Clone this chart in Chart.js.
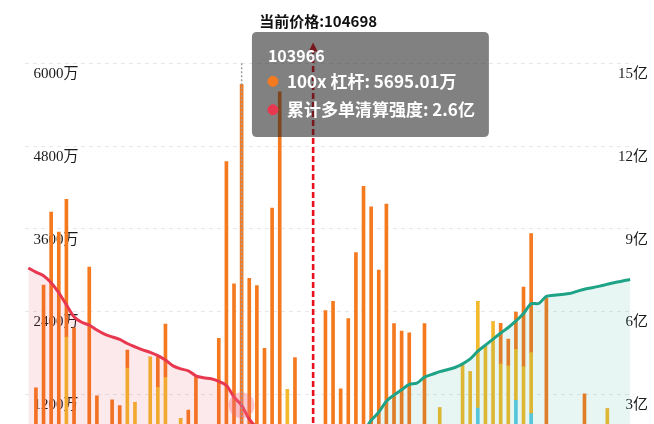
<!DOCTYPE html>
<html><head><meta charset="utf-8">
<script src="https://cdn.jsdelivr.net/npm/chart.js@4.4.1/dist/chart.umd.min.js"></script>
<style>
html,body{margin:0;padding:0;background:#fff;overflow:hidden;width:654px;height:424px;}
#wrap{position:relative;width:654px;height:500px;}
canvas{display:block;}
</style></head><body>
<div id="wrap"><canvas id="c" width="654" height="500"></canvas></div>
<script>
// ---- data ----
const prices = [101782,101860,101938,102016,102094,102172,102250,102328,102406,102484,
102562,102640,102718,102796,102874,102952,103030,103108,103186,103264,
103342,103420,103498,103576,103654,103732,103810,103888,103966,104044,
104122,104200,104278,104356,104434,104512,104590,104668,104746,104824,
104902,104980,105058,105136,105214,105292,105370,105448,105526,105604,
105682,105760,105838,105916,105994,106072,106150,106228,106306,106384,
106462,106540,106618,106696,106774,106852,106930,107008,107086,107164,
107242,107320,107398,107476,107554,107632,107710,107788,107866,107944];

// 25x leverage (万)
const lev25 = [0,0,0,0,0,0,0,0,0,0,
0,0,0,0,0,0,0,0,0,0,
0,0,0,0,0,0,0,0,0,0,
0,0,0,0,0,0,0,0,0,0,
0,0,0,0,0,0,0,0,0,0,
0,0,0,0,0,0,0,0,0,1000,
0,0,0,0,1111,0,918,0,0,0,
0,0,0,0,0,0,0,0,0,0];
// 50x leverage (万)
const lev50 = [0,0,0,0,0,2030,0,0,0,0,
0,0,0,1580,1078,0,1739,1300,1445,0,
846,0,0,0,0,0,0,0,0,0,
0,0,0,0,1269,0,0,0,0,0,
0,0,0,0,0,0,0,0,0,0,
0,0,0,300,1004,500,600,1628,1525,1548,
1891,2250,1640,1614,741,1600,887,0,0,0,
0,0,0,0,0,0,990,0,0,0];
// 100x leverage (万)
const lev100 = [700,1293,2782,3841,3553,1998,2163,500,3046,1178,
450,1120,1035,259,0,400,0,440,772,500,
0,971,1446,300,250,2011,4575,2801,5695.01,2883,
2778,1866,3901,5587,0,1733,400,300,300,2413,
2548,1278,2298,3256,4216,3917,3002,3960,2226,2117,
2092,150,2226,0,0,0,0,0,0,0,
0,0,589,388,539,1153,1726,100,2595,300,
250,200,600,1206,450,500,0,600,550,450];
// cumulative long liquidation intensity (亿)
const longCum = [7.58,7.43,7.30,7.04,6.68,6.24,5.81,5.61,5.51,5.33,
5.18,5.08,4.99,4.84,4.72,4.61,4.52,4.40,4.24,4.03,
3.92,3.85,3.67,3.60,3.56,3.47,3.32,2.90,2.6,2.10,
1.79,1.60,1.21,0.65,0.52,0.35,0.10,0.03,null,null,
null,null,null,null,null,null,null,null,null,null,
null,null,null,null,null,null,null,null,null,null,
null,null,null,null,null,null,null,null,null,null,
null,null,null,null,null,null,null,null,null,null];
// cumulative short liquidation intensity (亿)
const shortCum = [null,null,null,null,null,null,null,null,null,null,
null,null,null,null,null,null,null,null,null,null,
null,null,null,null,null,null,null,null,null,null,
null,null,null,null,null,null,null,null,0.03,0.27,
0.53,0.66,0.89,1.21,1.63,2.05,2.35,2.75,2.97,3.16,
3.36,3.40,3.62,3.72,3.82,3.89,3.97,4.10,4.28,4.56,
4.78,5.00,5.22,5.42,5.66,5.93,6.28,6.29,6.55,6.59,
6.62,6.65,6.73,6.81,6.86,6.92,6.99,7.05,7.11,7.16];

const leftTicks = [0,1200,2400,3600,4800,6000];   // 万
const rightTicks = [0,3,6,9,12,15];                // 亿
const currentPrice = 104698;
const activeIndex = 28;
const markTop = 6300; // top of current-price marker (万)

const C_ORANGE = '#f5791f', C_YELLOW = '#f3b82b', C_CYAN = '#5cc9e2';
const C_RED = '#e8384f', C_GREEN = '#1fa387';
const CJK = "'Noto Sans CJK SC','Noto Sans',sans-serif";

Chart.Tooltip.positioners.besideBar = function(elements){
  if(!elements.length) return false;
  const ca = this.chart.chartArea;
  return {x: elements[0].element.x + 15.3, y: ca.top - 31.3};
};

const overlay = {
  id:'overlay',
  afterDatasetsDraw(chart){
    const ctx = chart.ctx, xs = chart.scales.x, ys = chart.scales.y, ca = chart.chartArea;
    // axis pointer at active bar
    const ax = xs.getPixelForValue(activeIndex);
    ctx.save();
    ctx.strokeStyle = '#9c9c9c'; ctx.lineWidth = 1.5; ctx.setLineDash([2,2]);
    ctx.beginPath(); ctx.moveTo(ax, ca.top); ctx.lineTo(ax, ca.bottom); ctx.stroke();
    ctx.restore();
    // current price marker
    let k = 0;
    while (k < prices.length-2 && prices[k+1] <= currentPrice) k++;
    const idx = k + (currentPrice - prices[k])/(prices[k+1]-prices[k]);
    const px = xs.getPixelForValue(idx);
    const yTop = ys.getPixelForValue(markTop);
    ctx.save();
    ctx.strokeStyle = '#e8101e'; ctx.lineWidth = 2.6; ctx.setLineDash([6,3]);
    ctx.beginPath(); ctx.moveTo(px, ca.bottom); ctx.lineTo(px, yTop+8); ctx.stroke();
    ctx.setLineDash([]);
    ctx.fillStyle = '#e8101e';
    ctx.beginPath(); ctx.moveTo(px, yTop); ctx.lineTo(px-4.5, yTop+9); ctx.lineTo(px+4.5, yTop+9); ctx.closePath(); ctx.fill();
    ctx.fillStyle = '#111';
    ctx.font = "bold 15px " + CJK;
    ctx.textAlign = 'center'; ctx.textBaseline = 'middle';
    ctx.fillText('当前价格:' + currentPrice, px + 5, yTop - 21);
    ctx.restore();
  }
};

const chart = new Chart(document.getElementById('c'), {
  data: {
    labels: prices,
    datasets: [
      {type:'bar', label:'25x 杠杆', data: lev25, backgroundColor: C_CYAN, hoverBackgroundColor: C_CYAN, barThickness: 3, yAxisID:'y', order: 2},
      {type:'bar', label:'50x 杠杆', data: lev50, backgroundColor: C_YELLOW, hoverBackgroundColor: C_YELLOW, barThickness: 3, yAxisID:'y', order: 2},
      {type:'bar', label:'100x 杠杆', data: lev100, backgroundColor: C_ORANGE, hoverBackgroundColor: C_ORANGE, barThickness: 3, yAxisID:'y', order: 2},
      {type:'line', label:'累计多单清算强度', data: longCum, yAxisID:'y1', borderColor: C_RED, borderWidth: 3,
        backgroundColor: 'rgba(232,56,79,0.11)', fill: 'origin', tension: 0.3, pointRadius: 0,
        pointHoverRadius: 13, pointHoverBackgroundColor: 'rgba(240,110,125,0.35)', pointHoverBorderWidth: 0, order: 1},
      {type:'line', label:'累计空单清算强度', data: shortCum, yAxisID:'y1', borderColor: C_GREEN, borderWidth: 3,
        backgroundColor: 'rgba(31,163,135,0.10)', fill: 'origin', tension: 0.3, pointRadius: 0, order: 1}
    ]
  },
  options: {
    responsive: false, animation: false, events: [],
    layout: {padding: {left: 24.5, right: 20, top: 63.3, bottom: 19.4}},
    scales: {
      x: {display: false, stacked: true},
      y: {
        stacked: true, min: leftTicks[0], max: leftTicks[leftTicks.length-1],
        afterFit(s){ s.width = 0; },
        afterBuildTicks(s){ s.ticks = leftTicks.map(v => ({value: v})); },
        grid: {color: '#e8e8e8', drawTicks: false, lineWidth: 1},
        border: {display: false, dash: [4,4]},
        ticks: {mirror: true, padding: 9, labelOffset: 11, color: '#1a1a1a',
          font: {family: "'Liberation Serif','Noto Sans CJK SC',serif", size: 15},
          callback: v => v + '万'}
      },
      y1: {
        position: 'right', min: rightTicks[0], max: rightTicks[rightTicks.length-1],
        afterFit(s){ s.width = 0; },
        afterBuildTicks(s){ s.ticks = rightTicks.map(v => ({value: v})); },
        grid: {display: false, drawTicks: false},
        border: {display: false},
        ticks: {mirror: true, padding: 14, labelOffset: 11, color: '#1a1a1a',
          font: {family: "'Liberation Serif','Noto Sans CJK SC',serif", size: 15},
          callback: v => v + '亿'}
      }
    },
    plugins: {
      legend: {display: false},
      title: {display: false},
      tooltip: {
        enabled: true, position: 'besideBar', xAlign: 'left', yAlign: 'top',
        backgroundColor: 'rgba(30,30,30,0.56)',
        titleColor: '#fff', bodyColor: '#fff',
        titleFont: {family: CJK, size: 16, weight: 'bold'},
        bodyFont: {family: CJK, size: 17, weight: 'bold'},
        titleMarginBottom: 6, bodySpacing: 8,
        padding: {top: 14, bottom: 17, left: 16, right: 14},
        caretSize: 0, caretPadding: 0, cornerRadius: 5,
        displayColors: true, usePointStyle: true, boxWidth: 10, boxHeight: 10, boxPadding: 7,
        multiKeyBackground: 'rgba(0,0,0,0)',
        callbacks: {
          title: items => String(items[0].label),
          label: c => c.dataset.yAxisID === 'y1' ? `${c.dataset.label}: ${c.raw}亿` : `${c.dataset.label}: ${Number(c.raw).toFixed(2)}万`,
          labelColor: c => { const col = c.dataset.type === 'line' ? c.dataset.borderColor : c.dataset.backgroundColor; return {borderColor: col, backgroundColor: col, borderWidth: 0}; },
          labelPointStyle: () => ({pointStyle: 'circle', rotation: 0})
        }
      }
    }
  },
  plugins: [overlay]
});

const act = [{datasetIndex: 2, index: activeIndex}, {datasetIndex: 3, index: activeIndex}];
chart.setActiveElements(act);
chart.tooltip.setActiveElements(act, {x: 0, y: 0});
chart.update();
</script>
</body></html>
